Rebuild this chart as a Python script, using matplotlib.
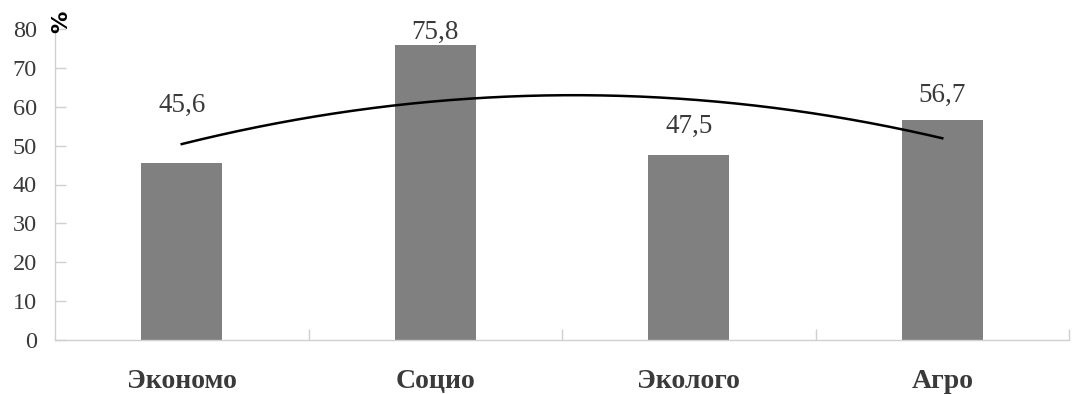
import numpy as np
import matplotlib
matplotlib.use("Agg")
import matplotlib.pyplot as plt

categories = ["Экономо", "Социо", "Эколого", "Агро"]
values = [45.6, 75.8, 47.5, 56.7]
value_labels = ["45,6", "75,8", "47,5", "56,7"]
label_offsets_pt = [36.5, 4.5, 16.5, 12.5]
yticks = [0, 10, 20, 30, 40, 50, 60, 70, 80]

plt.rcParams['font.family'] = ['Liberation Serif', 'DejaVu Serif']

fig = plt.figure(figsize=(10.83, 3.94), dpi=100)
ax = fig.add_axes([55/1083, 1 - 340/394, (1069 - 55)/1083, (340 - 29)/394])

x = np.arange(len(categories))
ax.bar(x, values, width=0.32, color="#808080", zorder=2)

# Excel-style polynomial (order 2) trendline fitted to the data
coef = np.polyfit(x, values, 2)
xs = np.linspace(x[0], x[-1], 200)
ax.plot(xs, np.polyval(coef, xs), color="black", lw=1.8, zorder=3)

text_color = "#3a3a3a"
for xi, v, lab, off in zip(x, values, value_labels, label_offsets_pt):
    ax.annotate(lab, xy=(xi, v), xytext=(0, off), textcoords="offset points",
                ha="center", va="baseline", fontsize=19.5, color=text_color)

ax.set_xlim(-0.5, len(categories) - 0.5)
ax.set_ylim(0, 80)
ax.set_yticks(yticks)
ax.set_yticklabels([str(t) for t in yticks])
ax.tick_params(axis="y", direction="in", length=8, width=1, color="#d0d0d0",
               labelsize=17.5, labelcolor=text_color, pad=13)

ax.set_xticks(x)
ax.set_xticklabels(categories, fontsize=20, fontweight="bold", color=text_color)
ax.tick_params(axis="x", which="major", length=0, pad=21)
ax.set_xticks(np.arange(0.5, len(categories) + 0.5, 1.0), minor=True)
ax.tick_params(axis="x", which="minor", direction="in", length=8, width=1, color="#d0d0d0")

for s in ["top", "right"]:
    ax.spines[s].set_visible(False)
for s in ["left", "bottom"]:
    ax.spines[s].set_color("#d0d0d0")
    ax.spines[s].set_linewidth(1)

ax.annotate("%", xy=(0, 1), xycoords="axes fraction", xytext=(4.7, 5),
            textcoords="offset points", rotation=90, ha="center", va="center",
            fontsize=16, fontweight="bold", color="black",
            family=["DejaVu Sans"])

fig.savefig("out.png", dpi=100)
